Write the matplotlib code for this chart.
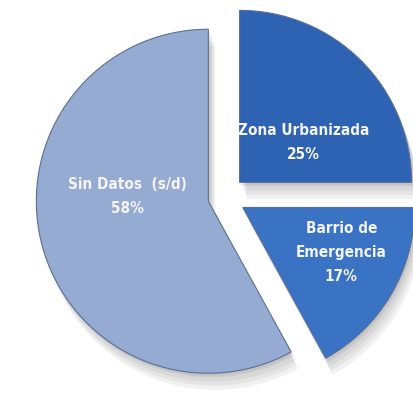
'''
Exploded pie chart of the area composition.
'''

from matplotlib import pyplot as plt
from matplotlib import patheffects as pe
import numpy as np

# data
categories = ['Zona Urbanizada', 'Barrio de\nEmergencia', 'Sin Datos  (s/d)']
shares = [25, 17, 58]
colors = ['#2d63b2', '#3a72c4', '#96abd2']
explode = [0.12, 0.12, 0.10]

# where the label sits inside each wedge (fraction of radius, angle shift)
label_dist = [0.44, 0.63, 0.47]
label_shift = [-13, 6, -18]


def main():
    fig = plt.figure(figsize=(4.13, 4.07), dpi=100)
    ax = fig.add_axes([0, 0, 1, 1])

    # soft grey shadow, several faint layers
    shadow = [pe.SimplePatchShadow(offset=(dx, dy), shadow_rgbFace='#555555',
                                   alpha=0.08)
              for dx, dy in [(2, -3), (3, -6), (4, -9), (5, -12), (1, -2)]]
    shadow.append(pe.Normal())

    wedges, _ = ax.pie(shares, colors=colors, explode=explode,
                       startangle=90, counterclock=False, radius=1.0,
                       wedgeprops={'edgecolor': '#5a6f95', 'linewidth': 0.8})
    for w in wedges:
        w.set_path_effects(shadow)

    # labels inside the wedges
    for w, lab, val, d, s in zip(wedges, categories, shares,
                                 label_dist, label_shift):
        mid = np.deg2rad((w.theta1 + w.theta2) / 2 + s)
        cx, cy = w.center
        ax.text(cx + d * np.cos(mid), cy + d * np.sin(mid),
                lab + '\n' + str(val) + '%',
                ha='center', va='center', color='#f4f4f4',
                fontsize=11, fontweight='bold', linespacing=1.75,
                fontstretch='condensed', family='DejaVu Sans')

    ax.set_xlim(-1.308, 1.093)
    ax.set_ylim(-1.221, 1.145)
    ax.set_aspect('equal')
    ax.axis('off')
    plt.savefig('out.png', dpi=100)


if __name__ == "__main__":
    main()
